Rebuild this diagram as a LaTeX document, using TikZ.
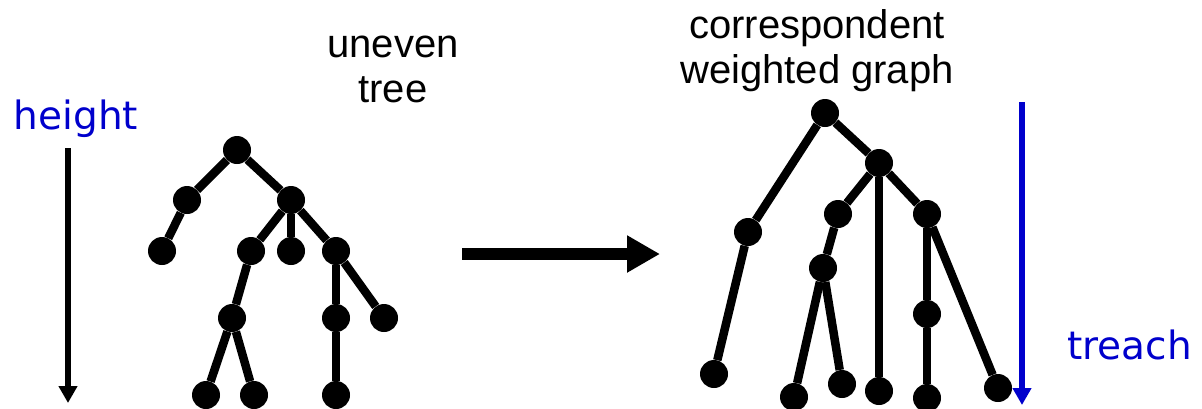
\documentclass[tikz,border=0pt]{standalone}
\usepackage{fontspec}
\setmainfont{Liberation Sans}
\newfontfamily\handfont{DejaVu Sans}
\usetikzlibrary{arrows.meta, positioning}
\definecolor{tblue}{RGB}{0,0,204}
\tikzset{%
	vtx/.style={circle, fill=black, minimum size=28pt, inner sep=0pt},
	link/.style={line width=8.5pt},
	caption/.style={font=\fontsize{40}{45}\selectfont, align=center, inner sep=0pt},
	hand/.style={font=\handfont\fontsize{39}{45}\selectfont, text=tblue, inner sep=0pt},
	timearrow/.style={line width=6pt, -{Triangle[length=17pt, width=18pt]}},
	maparrow/.style={line width=12pt, -{Triangle[length=33pt, width=35pt]}}
}
\begin{document}
\begin{tikzpicture}[x=1pt, y=-1pt, on grid]
	\useasboundingbox (0,0) rectangle (1202,408);

	% height axis
	\coordinate (h-top) at (68,148);
	\coordinate (h-bot) at (68,403);
	\draw [timearrow] (h-top) -- (h-bot);
	\node[hand, anchor=base] (hlabel) at (76,129) {height};

	% uneven tree (base = baseline of the last line)
	\node[caption, anchor=base] (ttitle) at (393,102) {uneven\\tree};
	\node[vtx] (t) at (237,150) {};
	\node[vtx, node distance=50pt and 50pt] (t-l) [below left=of t] {};
	\node[vtx, node distance=50pt and 54pt] (t-r) [below right=of t] {};
	\node[vtx, node distance=51pt and 25pt] (t-l-l) [below left=of t-l] {};
	\node[vtx, node distance=51pt and 40pt] (t-r-l) [below left=of t-r] {};
	\node[vtx, node distance=51pt] (t-r-m) [below=of t-r] {};
	\node[vtx, node distance=51pt and 45pt] (t-r-r) [below right=of t-r] {};
	\node[vtx, node distance=67pt and 19pt] (t-r-l-l) [below left=of t-r-l] {};
	\node[vtx, node distance=67pt] (t-r-r-l) [below=of t-r-r] {};
	\node[vtx, node distance=67pt and 48pt] (t-r-r-r) [below right=of t-r-r] {};
	\node[vtx, node distance=77pt and 26pt] (t-r-l-l-l) [below left=of t-r-l-l] {};
	\node[vtx, node distance=77pt and 22pt] (t-r-l-l-r) [below right=of t-r-l-l] {};
	\node[vtx, node distance=77pt] (t-r-r-l-l) [below=of t-r-r-l] {};
	\draw [link] (t) to (t-l);
	\draw [link] (t) to (t-r);
	\draw [link] (t-l) to (t-l-l);
	\draw [link] (t-r) to (t-r-l);
	\draw [link] (t-r) to (t-r-m);
	\draw [link] (t-r) to (t-r-r);
	\draw [link] (t-r-l) to (t-r-l-l);
	\draw [link] (t-r-r) to (t-r-r-l);
	\draw [link] (t-r-r) to (t-r-r-r);
	\draw [link] (t-r-l-l) to (t-r-l-l-l);
	\draw [link] (t-r-l-l) to (t-r-l-l-r);
	\draw [link] (t-r-r-l) to (t-r-r-l-l);

	% tree -> graph
	\coordinate (m-from) at (462,254);
	\coordinate (m-to) at (660,254);
	\draw [maparrow] (m-from) -- (m-to);

	% weighted graph
	\node[caption, anchor=base] (gtitle) at (817,83) {correspondent\\weighted graph};
	\node[vtx] (g) at (825,113) {};
	\node[vtx, node distance=50pt and 54pt] (g-r) [below right=of g] {};
	\node[vtx, node distance=119pt and 77pt] (g-l) [below left=of g] {};
	\node[vtx, node distance=142pt and 34pt] (g-l-l) [below left=of g-l] {};
	\node[vtx, node distance=51pt and 41pt] (g-r-l) [below left=of g-r] {};
	\node[vtx, node distance=228pt] (g-r-m) [below=of g-r] {};
	\node[vtx, node distance=51pt and 48pt] (g-r-r) [below right=of g-r] {};
	\node[vtx, node distance=54pt and 15pt] (g-r-l-l) [below left=of g-r-l] {};
	\node[vtx, node distance=129pt and 29pt] (g-r-l-l-l) [below left=of g-r-l-l] {};
	\node[vtx, node distance=116pt and 19pt] (g-r-l-l-r) [below right=of g-r-l-l] {};
	\node[vtx, node distance=100pt] (g-r-r-l) [below=of g-r-r] {};
	\node[vtx, node distance=84pt] (g-r-r-l-l) [below=of g-r-r-l] {};
	\node[vtx, node distance=174pt and 71pt] (g-r-r-r) [below right=of g-r-r] {};
	\draw [link] (g) to (g-r);
	\draw [link] (g) to (g-l);
	\draw [link] (g-l) to (g-l-l);
	\draw [link] (g-r) to (g-r-l);
	\draw [link] (g-r) to (g-r-m);
	\draw [link] (g-r) to (g-r-r);
	\draw [link] (g-r-l) to (g-r-l-l);
	\draw [link] (g-r-l-l) to (g-r-l-l-l);
	\draw [link] (g-r-l-l) to (g-r-l-l-r);
	\draw [link] (g-r-r) to (g-r-r-l);
	\draw [link] (g-r-r-l) to (g-r-r-l-l);
	\draw [link] (g-r-r) to (g-r-r-r);

	% reach time axis
	\coordinate (r-top) at (1022,102);
	\coordinate (r-bot) at (1022,405);
	\draw [timearrow, tblue] (r-top) -- (r-bot);
	\node[hand, anchor=base west] (rlabel) at (1067,359) {treach};
\end{tikzpicture}
\end{document}
